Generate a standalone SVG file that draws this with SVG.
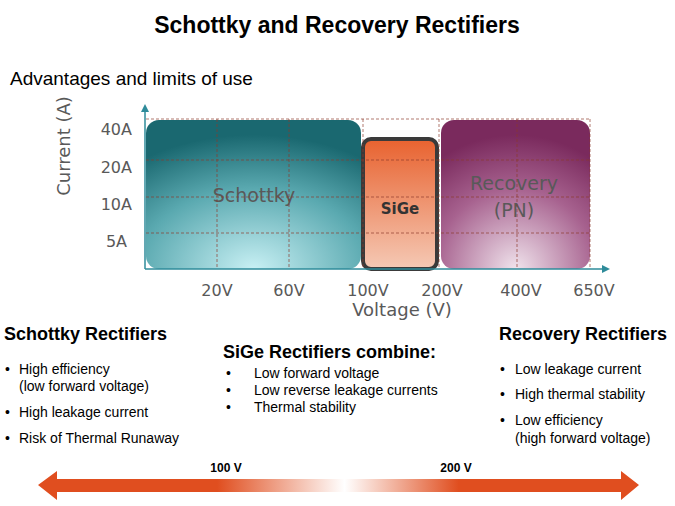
<svg xmlns="http://www.w3.org/2000/svg" width="675" height="506" viewBox="0 0 675 506">
<style>
.t{font-family:"Liberation Sans",Arial,sans-serif;}
.d{font-family:"DejaVu Sans",Verdana,sans-serif;fill:#595959;}
.g{stroke:#8b3a2a;stroke-width:0.8;stroke-dasharray:3,2;fill:none;opacity:0.85}
.h{font-family:"Liberation Sans",Arial,sans-serif;font-size:18px;font-weight:bold;fill:#000}
.b{font-family:"Liberation Sans",Arial,sans-serif;font-size:14px;fill:#000}
</style>
<defs>
<radialGradient id="gs" cx="0.5" cy="1" r="0.9"><stop offset="0" stop-color="#c8f0f4"/><stop offset="0.6" stop-color="#5aa9b0"/><stop offset="1" stop-color="#1a6870"/></radialGradient>
<linearGradient id="go" x1="0" y1="0" x2="0" y2="1"><stop offset="0" stop-color="#e8622f"/><stop offset="1" stop-color="#f5c9b5"/></linearGradient>
<radialGradient id="gr" cx="0.5" cy="1" r="0.9"><stop offset="0" stop-color="#f0e3ec"/><stop offset="0.6" stop-color="#a7628f"/><stop offset="1" stop-color="#7a2a5d"/></radialGradient>
<linearGradient id="ga" x1="38" y1="0" x2="639" y2="0" gradientUnits="userSpaceOnUse"><stop offset="0.298" stop-color="#e04e1f"/><stop offset="0.51" stop-color="#e04e1f" stop-opacity="0"/><stop offset="0.70" stop-color="#e04e1f"/></linearGradient>
<marker id="ah" markerWidth="8" markerHeight="8" refX="6" refY="4" orient="auto" markerUnits="userSpaceOnUse"><path d="M0,0L8,4L0,8z" fill="#2e8b9a"/></marker>
</defs>
<text class="t" x="337" y="33" text-anchor="middle" font-size="23" font-weight="bold">Schottky and Recovery Rectifiers</text>
<text class="t" x="10" y="85" font-size="19">Advantages and limits of use</text>
<g id="schottky"><rect x="146" y="120" width="215" height="149" rx="13" fill="url(#gs)"/><text class="d" x="254" y="202" text-anchor="middle" font-size="19" fill="#333">Schottky</text></g>
<g id="sige"><rect x="363" y="139" width="74" height="130" rx="8" fill="url(#go)" stroke="#3a3a3a" stroke-width="4"/><text x="400" y="214" text-anchor="middle" font-family="DejaVu Sans,sans-serif" font-weight="bold" font-size="15" fill="#333">SiGe</text></g>
<g id="recovery"><rect x="441" y="120" width="149" height="149" rx="13" fill="url(#gr)"/><text class="d" x="514" y="190" text-anchor="middle" font-size="19" fill="#444">Recovery</text><text class="d" x="514" y="217" text-anchor="middle" font-size="19" fill="#444">(PN)</text></g>
<g id="grid">
<line class="g" x1="146" y1="119" x2="590" y2="119"/><line class="g" x1="146" y1="160" x2="590" y2="160"/><line class="g" x1="146" y1="197" x2="590" y2="197"/><line class="g" x1="146" y1="233" x2="590" y2="233"/>
<line class="g" x1="217" y1="119" x2="217" y2="269"/><line class="g" x1="289" y1="119" x2="289" y2="269"/><line class="g" x1="363" y1="119" x2="363" y2="269"/><line class="g" x1="439" y1="119" x2="439" y2="269"/><line class="g" x1="517" y1="119" x2="517" y2="269"/><line class="g" x1="590" y1="119" x2="590" y2="269"/>
</g>
<g id="axes" stroke="#2e8b9a" stroke-width="1.5">
<line x1="145" y1="269" x2="145" y2="106" marker-end="url(#ah)"/>
<line x1="145" y1="269" x2="608" y2="269" marker-end="url(#ah)"/>
</g>
<g class="d" font-size="16">
<text x="132" y="135" text-anchor="end">40A</text><text x="132" y="173" text-anchor="end">20A</text><text x="132" y="210" text-anchor="end">10A</text><text x="127" y="247" text-anchor="end">5A</text>
<text x="217" y="296" text-anchor="middle">20V</text><text x="289" y="296" text-anchor="middle">60V</text><text x="368" y="296" text-anchor="middle">100V</text><text x="442" y="296" text-anchor="middle">200V</text><text x="521" y="296" text-anchor="middle">400V</text><text x="594" y="296" text-anchor="middle">650V</text>
<text x="402" y="316" text-anchor="middle" font-size="18">Voltage (V)</text>
<text transform="translate(70,146) rotate(-90)" text-anchor="middle" font-size="18">Current (A)</text>
</g>
<g id="left">
<text class="h" x="4" y="340">Schottky Rectifiers</text>
<text class="b" x="5" y="374">•</text><text class="b" x="19" y="374">High efficiency</text><text class="b" x="19" y="391">(low forward voltage)</text>
<text class="b" x="5" y="417">•</text><text class="b" x="19" y="417">High leakage current</text>
<text class="b" x="5" y="443">•</text><text class="b" x="19" y="443">Risk of Thermal Runaway</text>
</g>
<g id="middle">
<text class="h" x="223" y="358">SiGe Rectifiers combine:</text>
<text class="b" x="226" y="378">•</text><text class="b" x="254" y="378">Low forward voltage</text>
<text class="b" x="226" y="395">•</text><text class="b" x="254" y="395">Low reverse leakage currents</text>
<text class="b" x="226" y="412">•</text><text class="b" x="254" y="412">Thermal stability</text>
</g>
<g id="right">
<text class="h" x="499" y="340">Recovery Rectifiers</text>
<text class="b" x="500" y="374">•</text><text class="b" x="515" y="374">Low leakage current</text>
<text class="b" x="500" y="399">•</text><text class="b" x="515" y="399">High thermal stability</text>
<text class="b" x="500" y="425">•</text><text class="b" x="515" y="425">Low efficiency</text><text class="b" x="515" y="443">(high forward voltage)</text>
</g>
<g id="arrow">
<path d="M38,485 L57,471 L57,479 L621,479 L621,471 L639,485 L621,500 L621,492 L57,492 L57,500 Z" fill="url(#ga)"/>
<text class="t" x="226" y="472" text-anchor="middle" font-size="12" font-weight="bold">100 V</text>
<text class="t" x="456" y="472" text-anchor="middle" font-size="12" font-weight="bold">200 V</text>
</g>
</svg>
